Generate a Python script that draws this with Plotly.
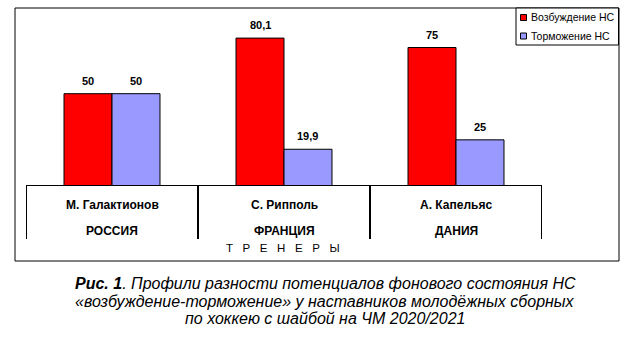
import plotly.graph_objects as go

# Data
coaches = ["М. Галактионов", "С. Рипполь", "А. Капельяс"]
countries = ["РОССИЯ", "ФРАНЦИЯ", "ДАНИЯ"]
series_names = ["Возбуждение НС", "Торможение НС"]
excitation = [50, 80.1, 75]
inhibition = [50, 19.9, 25]
series_values = [excitation, inhibition]
series_colors = ["#FF0000", "#9999FF"]
axis_title = "Т Р Е Н Е Р Ы"
caption_lines = [
    "<b>Рис. 1</b>. Профили разности потенциалов фонового состояния НС",
    "«возбуждение-торможение» у наставников молодёжных сборных",
    "по хоккею с шайбой на ЧМ 2020/2021",
]

W, H = 631, 337
FONT = "Liberation Sans, Arial, sans-serif"
BARGAP = 0.442
Y_MAX = 96.4


def px_x(px):
    return px / W


def px_y(px):
    return (H - px) / H


def fmt(v):
    return f"{v:g}".replace(".", ",")


fig = go.Figure()
x_idx = list(range(len(coaches)))
for name, vals, color in zip(series_names, series_values, series_colors):
    fig.add_trace(go.Bar(
        x=x_idx, y=vals, name=name,
        marker=dict(color=color, line=dict(color="#000000", width=1)),
        showlegend=False, hoverinfo="skip",
    ))

annotations = []
shapes = []

# value labels above each bar
n_series = len(series_values)
bar_w = (1 - BARGAP) / n_series
for k, vals in enumerate(series_values):
    for i, v in enumerate(vals):
        annotations.append(dict(
            x=i + (k - (n_series - 1) / 2) * bar_w, y=v, xref="x", yref="y",
            text=fmt(v), showarrow=False, yanchor="bottom", yshift=5,
            font=dict(family=FONT, size=11, color="#000000", weight="bold"),
        ))

# category table under the baseline
table_top, table_bottom = 186, 239
shapes.append(dict(type="line", xref="x", yref="y", x0=-0.5, x1=len(coaches) - 0.5,
                   y0=0, y1=0, line=dict(color="#000000", width=2)))
for b in range(len(coaches) + 1):
    shapes.append(dict(type="line", xref="x", yref="paper", x0=b - 0.5, x1=b - 0.5,
                       y0=px_y(table_bottom), y1=px_y(table_top),
                       line=dict(color="#000000", width=2)))
for i, (c, ctry) in enumerate(zip(coaches, countries)):
    annotations.append(dict(x=i, y=px_y(205), xref="x", yref="paper", text=c,
                            showarrow=False, yanchor="middle",
                            font=dict(family=FONT, size=12, color="#000000", weight="bold")))
    annotations.append(dict(x=i, y=px_y(231), xref="x", yref="paper", text=ctry,
                            showarrow=False, yanchor="middle",
                            font=dict(family=FONT, size=12, color="#000000", weight="bold")))

# spaced axis title
annotations.append(dict(x=px_x(283), y=px_y(248), xref="paper", yref="paper",
                        text=axis_title.replace(" ", "\u00a0\u00a0\u00a0"),
                        showarrow=False, yanchor="middle",
                        font=dict(family=FONT, size=11.5, color="#000000")))

# outer frame
shapes.append(dict(type="rect", xref="paper", yref="paper",
                   x0=px_x(15), x1=px_x(619), y0=px_y(261), y1=px_y(8),
                   line=dict(color="#000000", width=1)))

# legend box
shapes.append(dict(type="rect", xref="paper", yref="paper",
                   x0=px_x(516), x1=px_x(618.5), y0=px_y(45), y1=px_y(8),
                   line=dict(color="#000000", width=1), fillcolor="#FFFFFF"))
for k, (name, color) in enumerate(zip(series_names, series_colors)):
    cy = 17.5 + k * 18.5
    shapes.append(dict(type="rect", xref="paper", yref="paper",
                       x0=px_x(520.5), x1=px_x(526.5), y0=px_y(cy + 3), y1=px_y(cy - 3),
                       line=dict(color="#000000", width=1), fillcolor=color))
    annotations.append(dict(x=px_x(528.5), y=px_y(cy), xref="paper", yref="paper",
                            text=name, showarrow=False, xanchor="left", yanchor="middle",
                            font=dict(family=FONT, size=10.5, color="#000000")))

# figure caption
for j, line in enumerate(caption_lines):
    annotations.append(dict(x=px_x(325), y=px_y(283.5 + j * 17.5), xref="paper", yref="paper",
                            text=f"<i>{line}</i>", showarrow=False, yanchor="middle",
                            font=dict(family=FONT, size=16, color="#000000")))

fig.update_layout(
    width=W, height=H,
    margin=dict(l=0, r=0, t=0, b=0),
    paper_bgcolor="#FFFFFF", plot_bgcolor="rgba(0,0,0,0)",
    barmode="group", bargap=BARGAP, bargroupgap=0,
    separators=", ",
    xaxis=dict(domain=[px_x(26), px_x(542)], range=[-0.5, len(coaches) - 0.5],
               visible=False),
    yaxis=dict(domain=[px_y(186), px_y(8)], range=[0, Y_MAX], visible=False),
    shapes=shapes, annotations=annotations,
)

fig.write_html("out.html")
